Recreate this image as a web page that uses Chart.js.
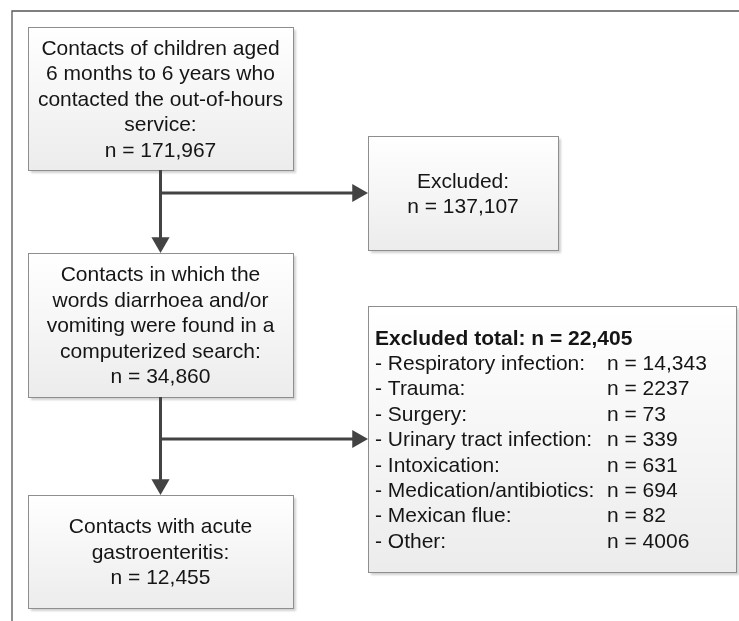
<!DOCTYPE html>
<html>
<head>
<meta charset="utf-8">
<script src="https://cdn.jsdelivr.net/npm/chart.js@4/dist/chart.umd.min.js"></script>
<style>
  html, body { margin: 0; padding: 0; background: #fff; }
  #wrap { width: 739px; height: 621px; }
</style>
</head>
<body>
<div id="wrap"><canvas id="flowChart" width="739" height="621"></canvas></div>
<script>
// flow steps (main column)
var stepLabels = [
    ["Contacts of children aged", "6 months to 6 years who", "contacted the out-of-hours", "service:"],
    ["Contacts in which the", "words diarrhoea and/or", "vomiting were found in a", "computerized search:"],
    ["Contacts with acute", "gastroenteritis:"]
];
var stepCounts = [171967, 34860, 12455];

// first exclusion
var firstExcludedLabel = "Excluded:";
var firstExcludedCount = 137107;

// second exclusion, by reason
var excludedTotal = 22405;
var excludedReasons = ["Respiratory infection", "Trauma", "Surgery", "Urinary tract infection",
    "Intoxication", "Medication/antibiotics", "Mexican flue", "Other"];
var excludedCounts = [14343, 2237, 73, 339, 631, 694, 82, 4006];

// layout (pixels == axis units)
var mainBoxes = [
    { x0: 28, x1: 293, y0: 27, y1: 170 },
    { x0: 28, x1: 293, y0: 253, y1: 397 },
    { x0: 28, x1: 293, y0: 495, y1: 608 }
];
var sideBoxes = [
    { x0: 368, x1: 558, y0: 136, y1: 250 },
    { x0: 368, x1: 736, y0: 306, y1: 572 }
];
var branchY = [193, 439];
var lineGap = 25.4;
var textShift = 1.5;
var headR = 10.5;
var font = "21px 'Liberation Sans', Arial, sans-serif";
var boldFont = "bold 21px 'Liberation Sans', Arial, sans-serif";
var textColor = "#151515";
var arrowColor = "#434343";

function fmt(n) {
    return n >= 10000 ? n.toLocaleString("en-US") : String(n);
}

// connectors built from the layout
var connectorSets = [];
var heads = [];
var headRot = [];
for (var i = 0; i < mainBoxes.length - 1; i++) {
    var cx = (mainBoxes[i].x0 + mainBoxes[i].x1) / 2;
    var nextTop = mainBoxes[i + 1].y0;
    connectorSets.push([{ x: cx, y: mainBoxes[i].y1 }, { x: cx, y: nextTop - headR }]);
    connectorSets.push([{ x: cx, y: branchY[i] }, { x: sideBoxes[i].x0 - headR, y: branchY[i] }]);
    heads.push({ x: cx, y: nextTop - headR });
    headRot.push(180);
    heads.push({ x: sideBoxes[i].x0 - headR, y: branchY[i] });
    headRot.push(90);
}

var datasets = [{
    data: [{ x: 739, y: 11 }, { x: 12, y: 11 }, { x: 12, y: 621 }],
    showLine: true, borderColor: "#555555", borderWidth: 1.3, pointRadius: 0
}];
connectorSets.forEach(function (pts) {
    datasets.push({ data: pts, showLine: true, borderColor: arrowColor, borderWidth: 3, pointRadius: 0 });
});
datasets.push({
    data: heads, showLine: false, pointStyle: "triangle", pointRadius: headR,
    rotation: headRot, backgroundColor: arrowColor, borderColor: arrowColor, borderWidth: 0
});

function drawBox(ctx, xs, ys, b) {
    var l = xs.getPixelForValue(b.x0), r = xs.getPixelForValue(b.x1);
    var t = ys.getPixelForValue(b.y0), bt = ys.getPixelForValue(b.y1);
    ctx.save();
    ctx.shadowColor = "rgba(0,0,0,0.18)";
    ctx.shadowOffsetX = 3;
    ctx.shadowOffsetY = 3;
    ctx.shadowBlur = 2;
    var g = ctx.createLinearGradient(0, t, 0, bt);
    g.addColorStop(0, "#ffffff");
    g.addColorStop(1, "#ececec");
    ctx.fillStyle = g;
    ctx.fillRect(l, t, r - l, bt - t);
    ctx.restore();
    ctx.strokeStyle = "#8e8e8e";
    ctx.lineWidth = 1;
    ctx.strokeRect(Math.round(l) + 0.5, Math.round(t) + 0.5, Math.round(r - l), Math.round(bt - t));
    return { l: l, r: r, t: t, b: bt };
}

function centerLines(ctx, box, lines) {
    var cx = (box.l + box.r) / 2;
    var cy = (box.t + box.b) / 2 + textShift;
    var y = cy - (lines.length - 1) * lineGap / 2;
    ctx.textAlign = "center";
    lines.forEach(function (s, k) { ctx.fillText(s, cx, y + k * lineGap); });
}

var flowPlugin = {
    id: "flow",
    beforeDatasetsDraw: function (chart) {
        var ctx = chart.ctx, xs = chart.scales.x, ys = chart.scales.y;
        ctx.save();
        ctx.fillStyle = textColor;
        ctx.textBaseline = "middle";

        mainBoxes.forEach(function (b, i) {
            var box = drawBox(ctx, xs, ys, b);
            ctx.fillStyle = textColor;
            ctx.font = font;
            centerLines(ctx, box, stepLabels[i].concat(["n = " + fmt(stepCounts[i])]));
        });

        var box1 = drawBox(ctx, xs, ys, sideBoxes[0]);
        ctx.fillStyle = textColor;
        ctx.font = font;
        centerLines(ctx, box1, [firstExcludedLabel, "n = " + fmt(firstExcludedCount)]);

        var box2 = drawBox(ctx, xs, ys, sideBoxes[1]);
        ctx.fillStyle = textColor;
        var n = excludedReasons.length + 1;
        var y0 = (box2.t + box2.b) / 2 + textShift - (n - 1) * lineGap / 2;
        var lx = box2.l + 7;
        var vx = xs.getPixelForValue(607);
        ctx.textAlign = "left";
        ctx.font = boldFont;
        ctx.fillText("Excluded total: n = " + fmt(excludedTotal), lx, y0);
        ctx.font = font;
        excludedReasons.forEach(function (r, k) {
            var y = y0 + (k + 1) * lineGap;
            ctx.fillText("- " + r + ":", lx, y);
            ctx.fillText("n = " + fmt(excludedCounts[k]), vx, y);
        });
        ctx.restore();
    }
};

var config = {
    type: "scatter",
    data: { datasets: datasets },
    options: {
        responsive: false,
        animation: false,
        clip: false,
        layout: { padding: 0, autoPadding: false },
        plugins: { legend: { display: false }, tooltip: { enabled: false } },
        scales: {
            x: { type: "linear", min: 0, max: 739, display: false },
            y: { type: "linear", min: 0, max: 621, reverse: true, display: false }
        }
    },
    plugins: [flowPlugin]
};

var flowChart = new Chart(document.getElementById("flowChart"), config);
</script>
</body>
</html>
